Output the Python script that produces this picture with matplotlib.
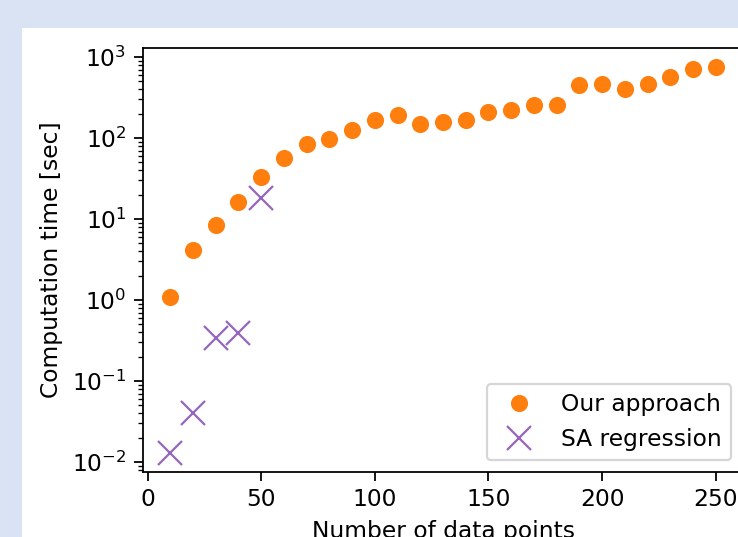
import matplotlib
matplotlib.use("Agg")
import matplotlib.pyplot as plt
import matplotlib.patches as mpatches

# values
n_points = [10, 20, 30, 40, 50, 60, 70, 80, 90, 100, 110, 120, 130, 140, 150,
            160, 170, 180, 190, 200, 210, 220, 230, 240, 250]
our_time = [1.10, 4.1, 8.4, 16.3, 33, 56, 85, 98, 124, 165, 190, 150, 157, 165, 209,
            219, 253, 253, 446, 468, 398, 468, 564, 716, 748]

sa_points = [10, 20, 30, 40, 50]
sa_time = [0.013, 0.040, 0.34, 0.39, 18]

W, H = 738, 537
DPI = 160

# the screenshot is a bit bigger than a plain 160 dpi render
plt.rcParams['font.size'] = 10.5
plt.rcParams['xtick.major.size'] = 3.9
plt.rcParams['ytick.major.size'] = 3.9
plt.rcParams['ytick.minor.size'] = 2.2

fig = plt.figure(figsize=(W / DPI, H / DPI), dpi=DPI)
fig.patch.set_facecolor('#dae3f3')

# white canvas of the cropped screenshot, kept behind the axes
fig.add_artist(mpatches.Rectangle((22 / W, 0), 1, 1 - 28 / H, transform=fig.transFigure,
                                  facecolor='white', edgecolor='none', zorder=-10))

ax = fig.add_axes([143 / W, 1 - 472 / H, 600 / W, 424 / H])
ax.plot(n_points, our_time, 'o', color='#ff7f0e', markersize=6.7, label='Our approach')
ax.plot(sa_points, sa_time, 'x', color='#9467bd', markersize=11, label='SA regression')
ax.set_yscale('log')
ax.set_xlabel('Number of data points')
ax.set_ylabel('Computation time [sec]')
ax.legend(loc='lower right')

fig.savefig('out.png', dpi=DPI)
